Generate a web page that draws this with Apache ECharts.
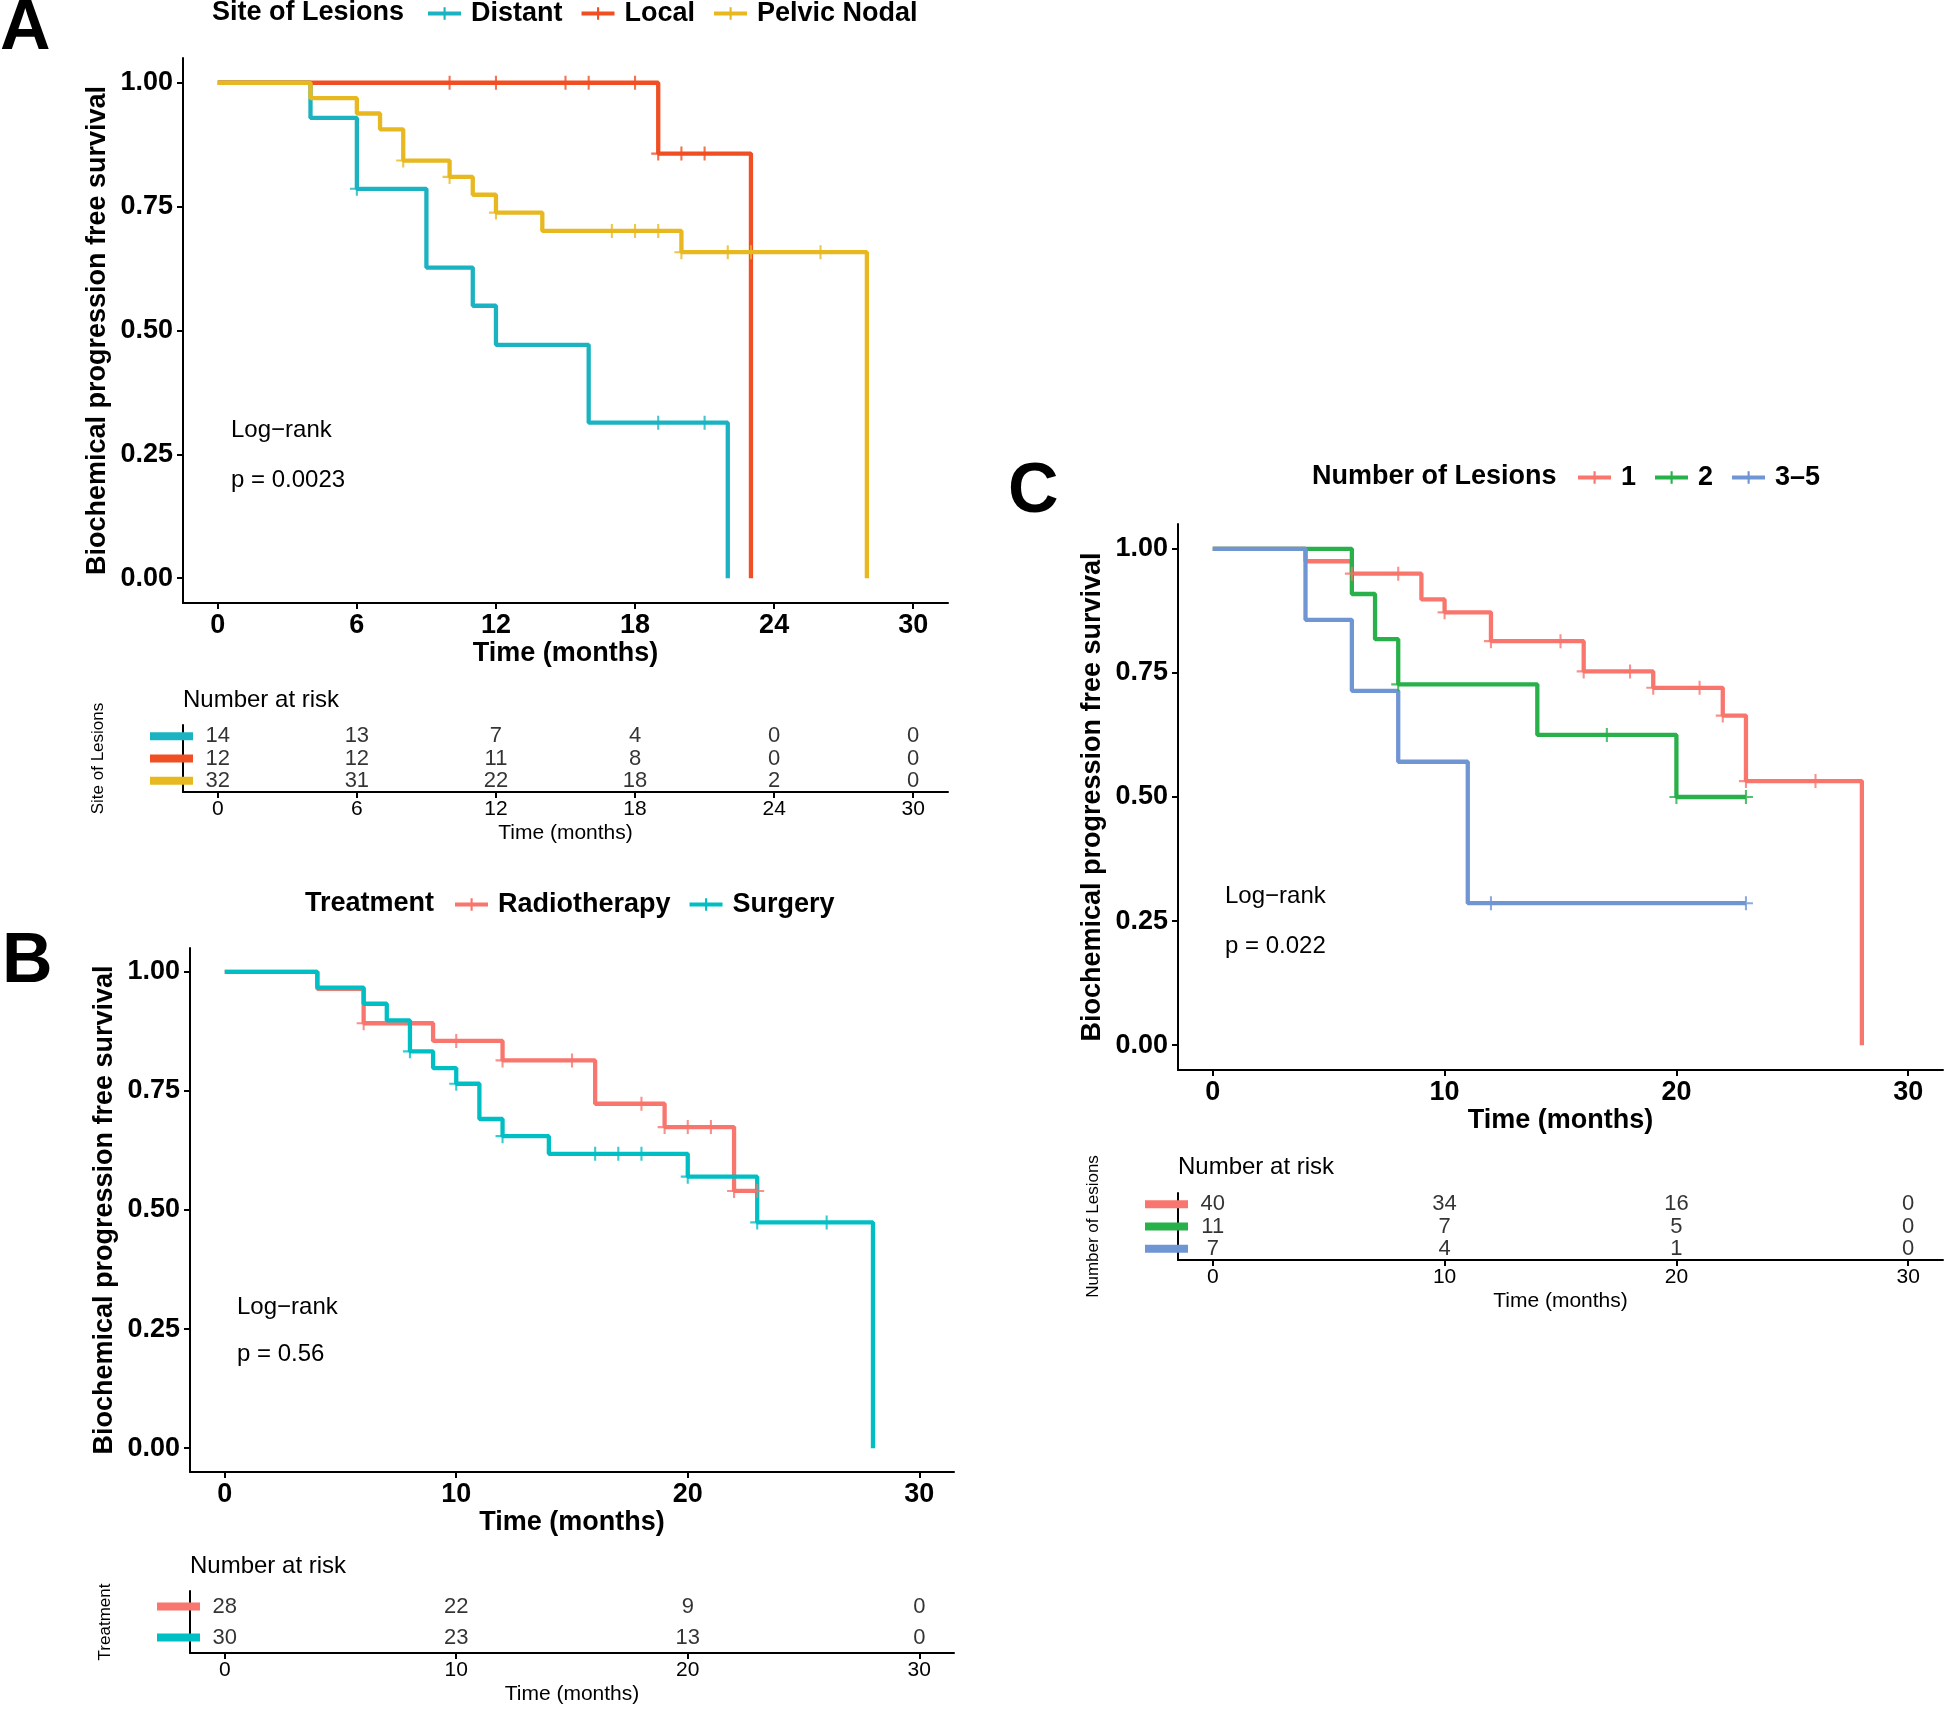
<!DOCTYPE html>
<html lang="en">
<head>
  <meta charset="UTF-8">
  <title>Biochemical progression free survival</title>
  <script src="https://cdn.jsdelivr.net/npm/echarts@6/dist/echarts.min.js"></script>
  <style>html, body { margin: 0; padding: 0; background: #fff; }</style>
</head>
<body>
<div id="main" style="width:1944px;height:1709px;"></div>
<script>
// ---------- A: site of lesions ----------
var groupsA = ['Distant', 'Local', 'Pelvic Nodal'];
var colorsA = ['#1bb3c1', '#f04e23', '#e8b820'];
var distantT = [0, 4, 6, 9, 11, 12, 16, 22];
var distantS = [1, 0.929, 0.786, 0.627, 0.550, 0.471, 0.314, 0];
var distantCens = [6, 19, 21];
var localT = [0, 19, 23];
var localS = [1, 0.857, 0];
var localCens = [10, 12, 15, 16, 18, 19, 20, 21];
var pelvicT = [0, 4, 6, 7, 8, 10, 11, 12, 14, 20, 28];
var pelvicS = [1, 0.969, 0.938, 0.906, 0.843, 0.810, 0.774, 0.738, 0.701, 0.658, 0];
var pelvicCens = [8, 10, 12, 17, 18, 19, 20, 22, 23, 26];
var riskTimesA = [0, 6, 12, 18, 24, 30];
var riskDistant = [14, 13, 7, 4, 0, 0];
var riskLocal = [12, 12, 11, 8, 0, 0];
var riskPelvic = [32, 31, 22, 18, 2, 0];

// ---------- B: treatment ----------
var groupsB = ['Radiotherapy', 'Surgery'];
var colorsB = ['#f8766d', '#00bfc4'];
var radioT = [0, 4, 6, 9, 12, 16, 19, 22, 23];
var radioS = [1, 0.964, 0.892, 0.855, 0.814, 0.723, 0.674, 0.540, 0.540];
var radioCens = [6, 10, 12, 15, 18, 19, 20, 21, 22, 23];
var surgT = [0, 4, 6, 7, 8, 9, 10, 11, 12, 14, 20, 23, 28];
var surgS = [1, 0.967, 0.933, 0.898, 0.833, 0.798, 0.765, 0.691, 0.655, 0.618, 0.570, 0.474, 0];
var surgCens = [8, 10, 12, 16, 17, 18, 20, 23, 26];
var riskTimesB = [0, 10, 20, 30];
var riskRadio = [28, 22, 9, 0];
var riskSurg = [30, 23, 13, 0];

// ---------- C: number of lesions ----------
var groupsC = ['1', '2', '3\u20135'];
var colorsC = ['#f8766d', '#28b04a', '#6f95d3'];
var oneT = [0, 4, 6, 9, 10, 12, 16, 19, 22, 23, 28];
var oneS = [1, 0.975, 0.950, 0.898, 0.872, 0.814, 0.753, 0.720, 0.664, 0.532, 0];
var oneCens = [6, 8, 10, 12, 15, 16, 18, 19, 21, 22, 23, 26];
var twoT = [0, 6, 7, 8, 14, 20, 23];
var twoS = [1, 0.909, 0.818, 0.727, 0.625, 0.500, 0.500];
var twoCens = [8, 17, 20, 23];
var threeT = [0, 4, 6, 8, 11, 23];
var threeS = [1, 0.857, 0.714, 0.571, 0.286, 0.286];
var threeCens = [12, 23];
var riskTimesC = [0, 10, 20, 30];
var riskOne = [40, 34, 16, 0];
var riskTwo = [11, 7, 5, 0];
var riskThree = [7, 4, 1, 0];

var survTicks = [0, 0.25, 0.5, 0.75, 1];
var FONT = 'Liberation Sans, Arial, Helvetica, sans-serif';
var plusPath = 'path://M5.1,0H6.9V5.1H12V6.9H6.9V12H5.1V6.9H0V5.1H5.1Z';
var legendIcon = 'path://M0,4.5H34V8.5H0Z M16,0H18.2V13H16Z';

// survival level at time t (right-continuous step)
function stepAt(T, S, t) {
  var v = S[0];
  for (var i = 0; i < T.length; i++) if (T[i] <= t) v = S[i];
  return v;
}

function kmSeries(name, T, S, cens, color, gi) {
  return [{
    name: name, type: 'line', step: 'end', xAxisIndex: gi, yAxisIndex: gi,
    data: T.map(function (t, i) { return [t, S[i]]; }),
    showSymbol: false, symbol: 'none', color: color, z: 2,
    lineStyle: { width: 4.3, color: color }
  }, {
    name: name, type: 'scatter', xAxisIndex: gi, yAxisIndex: gi,
    data: cens.map(function (t) { return [t, stepAt(T, S, t)]; }),
    symbol: plusPath, symbolSize: 14, color: color, itemStyle: { color: color }, z: 3
  }];
}

function riskSeries(name, times, counts, gi) {
  return {
    name: 'risk ' + name, type: 'scatter', xAxisIndex: gi, yAxisIndex: gi,
    symbolSize: 1, itemStyle: { color: 'transparent' },
    data: times.map(function (t, i) { return [t, name, counts[i]]; }),
    label: {
      show: true, position: 'inside', color: '#000', fontSize: 22, fontFamily: FONT,
      formatter: function (p) { return p.value[2]; }
    }
  };
}

function xAx(gi, ticks, main) {
  return {
    type: 'value', gridIndex: gi, min: -1.5, max: 31.5,
    name: 'Time (months)', nameLocation: 'middle', nameGap: main ? 36 : 31,
    nameTextStyle: { fontSize: main ? 27 : 21, fontWeight: main ? 'bold' : 'normal', color: '#000', fontFamily: FONT },
    axisLine: { show: true, onZero: false, lineStyle: { color: '#000', width: 2 } },
    axisTick: { show: true, customValues: ticks, length: 6, lineStyle: { color: '#000', width: 2 } },
    axisLabel: { customValues: ticks, margin: main ? 9 : 7, fontSize: main ? 27 : 21,
      fontWeight: main ? 'bold' : 'normal', color: '#000', fontFamily: FONT },
    splitLine: { show: false }
  };
}

function yMain(gi) {
  return {
    type: 'value', gridIndex: gi, min: -0.05, max: 1.05,
    name: 'Biochemical progression free survival', nameLocation: 'middle', nameRotate: 90, nameGap: 72,
    nameTextStyle: { fontSize: 27, fontWeight: 'bold', color: '#000', fontFamily: FONT },
    axisLine: { show: true, onZero: false, lineStyle: { color: '#000', width: 2 } },
    axisTick: { show: true, customValues: survTicks, length: 6, lineStyle: { color: '#000', width: 2 } },
    axisLabel: { customValues: survTicks, margin: 10, fontSize: 27, fontWeight: 'bold', color: '#000', fontFamily: FONT,
      formatter: function (v) { return v.toFixed(2); } },
    splitLine: { show: false }
  };
}

function yTable(gi, groups, colors, title) {
  var rich = {};
  colors.forEach(function (c, i) { rich['c' + i] = { width: 43, height: 8, backgroundColor: c }; });
  return {
    type: 'category', gridIndex: gi, data: groups, inverse: true,
    name: title, nameLocation: 'middle', nameRotate: 90, nameGap: 76,
    nameTextStyle: { fontSize: 17, color: '#000', fontFamily: FONT },
    axisLine: { show: true, onZero: false, lineStyle: { color: '#000', width: 2 } },
    axisTick: { show: false },
    axisLabel: { margin: -10, formatter: function (v, i) { return '{c' + i + '| }'; }, rich: rich },
    splitLine: { show: false }
  };
}

function txt(s, x, y, size, bold) {
  return { type: 'text', x: x, y: y, style: { text: s, fontSize: size, fontWeight: bold ? 'bold' : 'normal',
    fontFamily: FONT, fill: '#000', verticalAlign: 'middle' } };
}

function legend(groups, left, top) {
  return {
    data: groups, left: left, top: top, padding: 0, itemGap: 19, itemWidth: 33, itemHeight: 13,
    icon: legendIcon, selectedMode: false,
    textStyle: { fontSize: 27, fontWeight: 'bold', color: '#000', fontFamily: FONT, padding: [0, 0, 0, 5] }
  };
}

var series = [].concat(
  kmSeries('Distant', distantT, distantS, distantCens, colorsA[0], 0),
  kmSeries('Local', localT, localS, localCens, colorsA[1], 0),
  kmSeries('Pelvic Nodal', pelvicT, pelvicS, pelvicCens, colorsA[2], 0),
  [riskSeries('Distant', riskTimesA, riskDistant, 1),
   riskSeries('Local', riskTimesA, riskLocal, 1),
   riskSeries('Pelvic Nodal', riskTimesA, riskPelvic, 1)],
  kmSeries('Radiotherapy', radioT, radioS, radioCens, colorsB[0], 2),
  kmSeries('Surgery', surgT, surgS, surgCens, colorsB[1], 2),
  [riskSeries('Radiotherapy', riskTimesB, riskRadio, 3),
   riskSeries('Surgery', riskTimesB, riskSurg, 3)],
  kmSeries(groupsC[0], oneT, oneS, oneCens, colorsC[0], 4),
  kmSeries(groupsC[1], twoT, twoS, twoCens, colorsC[1], 4),
  kmSeries(groupsC[2], threeT, threeS, threeCens, colorsC[2], 4),
  [riskSeries(groupsC[0], riskTimesC, riskOne, 5),
   riskSeries(groupsC[1], riskTimesC, riskTwo, 5),
   riskSeries(groupsC[2], riskTimesC, riskThree, 5)]
);

var myChart = echarts.init(document.getElementById('main'));
myChart.setOption({
  animation: false,
  backgroundColor: '#fff',
  textStyle: { fontFamily: FONT },
  grid: [
    { left: 183, top: 58, width: 765, height: 545 },
    { left: 183, top: 725, width: 765, height: 67 },
    { left: 190, top: 948, width: 764, height: 524 },
    { left: 190, top: 1591, width: 764, height: 62 },
    { left: 1178, top: 524, width: 765, height: 546 },
    { left: 1178, top: 1193, width: 765, height: 67 }
  ],
  xAxis: [
    xAx(0, riskTimesA, true), xAx(1, riskTimesA, false),
    xAx(2, riskTimesB, true), xAx(3, riskTimesB, false),
    xAx(4, riskTimesC, true), xAx(5, riskTimesC, false)
  ],
  yAxis: [
    yMain(0), yTable(1, groupsA, colorsA, 'Site of Lesions'),
    yMain(2), yTable(3, groupsB, colorsB, 'Treatment'),
    yMain(4), yTable(5, groupsC, colorsC, 'Number of Lesions')
  ],
  legend: [legend(groupsA, 428, 0), legend(groupsB, 455, 891), legend(groupsC, 1578, 464)],
  graphic: [
    txt('A', 0, 30, 70, true), txt('Site of Lesions', 212, 13, 27, true),
    txt('Log\u2212rank', 231, 430, 24), txt('p = 0.0023', 231, 480, 24),
    txt('Number at risk', 183, 700, 24),
    txt('B', 2, 963, 70, true), txt('Treatment', 305, 904, 27, true),
    txt('Log\u2212rank', 237, 1307, 24), txt('p = 0.56', 237, 1354, 24),
    txt('Number at risk', 190, 1566, 24),
    txt('C', 1008, 493, 70, true), txt('Number of Lesions', 1312, 477, 27, true),
    txt('Log\u2212rank', 1225, 896, 24), txt('p = 0.022', 1225, 946, 24),
    txt('Number at risk', 1178, 1167, 24)
  ],
  series: series
});
</script>
</body>
</html>
